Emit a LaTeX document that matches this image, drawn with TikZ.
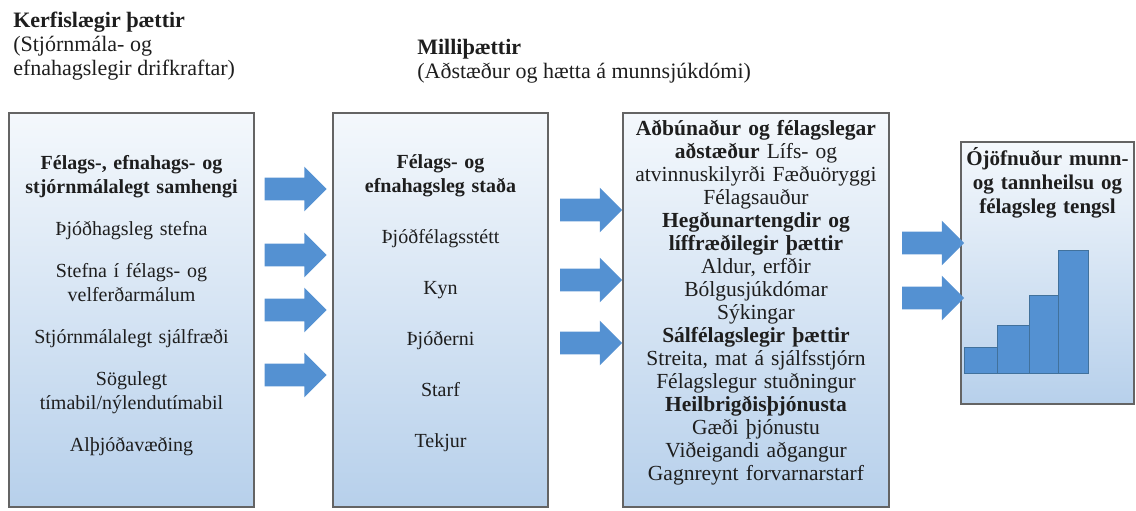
\documentclass[tikz,border=0pt]{standalone}
\usepackage{fontspec}
\setmainfont{Liberation Serif}
\usetikzlibrary{shapes.arrows,calc,positioning}

\definecolor{boxtop}{RGB}{244,248,252}
\definecolor{boxbot}{RGB}{183,208,235}
\definecolor{boxline}{RGB}{100,100,100}
\definecolor{arrowblue}{RGB}{84,145,210}
\definecolor{barline}{RGB}{65,113,156}
\definecolor{txtgray}{RGB}{30,30,30}

\begin{document}
\begin{tikzpicture}[x=1pt, y=-1pt, semithick, text=txtgray]
  \tikzstyle{block} = [rectangle, draw=boxline, line width=1.4pt,
    top color=boxtop, bottom color=boxbot, inner sep=0pt]
  \tikzstyle{bigarrow} = [single arrow, fill=arrowblue, draw=none,
    inner xsep=0pt, inner ysep=11pt, minimum height=62pt,
    single arrow head extend=11pt]
  \tikzstyle{head} = [anchor=north west, align=left, inner sep=0pt,
    font=\fontsize{22}{24}\selectfont]
  \tikzstyle{items} = [anchor=north, align=center, inner sep=0pt,
    font=\fontsize{20}{24}\selectfont]
  \tikzstyle{bar} = [fill=arrowblue, draw=barline, line width=0.8pt]

  \useasboundingbox (0,0) rectangle (1136,511);

  % Headers
  \node [head] (sys) at (13,12) {\textbf{Kerfislægir þættir}\\(Stjórnmála- og\\efnahagslegir drifkraftar)};
  \node [head] (mid) at (417,39) {\textbf{Milliþættir}\\(Aðstæður og hætta á munnsjúkdómi)};

  % Place boxes
  \node [block, minimum width=245pt, minimum height=394pt] (ctx) at (131.5,310) {};
  \node [block, minimum width=215pt, minimum height=394pt] (pos) at (440.5,310) {};
  \node [block, minimum width=266pt, minimum height=394pt] (cond) at (756,310) {};
  \node [block, minimum width=173pt, minimum height=262pt] (ineq) at (1047.5,273) {};

  % Box texts
  \node [items, text width=235pt] (ctxtxt) at ($(ctx.north)+(0,43)$)
    {\textbf{Félags-, efnahags- og}\\\textbf{stjórnmálalegt samhengi}\\[18pt]
     Þjóðhagsleg stefna\\[18pt]
     Stefna í félags- og\\velferðarmálum\\[18pt]
     Stjórnmálalegt sjálfræði\\[18pt]
     Sögulegt\\tímabil/nýlendutímabil\\[18pt]
     Alþjóðavæðing};
  \node [items, text width=205pt] (postxt) at ($(pos.north)+(0,42)$)
    {\textbf{Félags- og}\\\textbf{efnahagsleg staða}\\[27pt]
     Þjóðfélagsstétt\\[27pt]
     Kyn\\[27pt]
     Þjóðerni\\[27pt]
     Starf\\[27pt]
     Tekjur};
  \node [items, text width=262pt, font=\fontsize{21.5}{23}\selectfont] (condtxt) at ($(cond.north)+(0,8)$)
    {\textbf{Aðbúnaður og félagslegar}\\\textbf{aðstæður} Lífs- og\\
     atvinnuskilyrði Fæðuöryggi\\Félagsauður\\
     \textbf{Hegðunartengdir og}\\\textbf{líffræðilegir þættir}\\
     Aldur, erfðir\\Bólgusjúkdómar\\Sýkingar\\
     \textbf{Sálfélagslegir þættir}\\
     Streita, mat á sjálfsstjórn\\Félagslegur stuðningur\\
     \textbf{Heilbrigðisþjónusta}\\
     Gæði þjónustu\\Viðeigandi aðgangur\\Gagnreynt forvarnarstarf};
  \node [items, text width=170pt, font=\fontsize{21}{24}\selectfont\bfseries] (ineqtxt) at ($(ineq.north)+(0,6)$)
    {Ójöfnuður munn-\\og tannheilsu og\\félagsleg tengsl};

  % Bar chart
  \draw [bar] (964,373) rectangle (997,347);
  \draw [bar] (997,373) rectangle (1029,325);
  \draw [bar] (1029,373) rectangle (1058,295);
  \draw [bar] (1058,373) rectangle (1088,250);

  % Block arrows
  \coordinate (gap1) at ($(ctx.east)!0.5!(pos.west)+(-3.5,0)$);
  \coordinate (gap2) at ($(pos.east)!0.5!(cond.west)$);
  \coordinate (gap3) at ($(cond.east)!0.5!(ineq.west)+(2.5,0)$);
  \node [bigarrow] (a11) at (gap1 |- 0,189) {};
  \node [bigarrow] (a12) at (gap1 |- 0,255) {};
  \node [bigarrow] (a13) at (gap1 |- 0,310) {};
  \node [bigarrow] (a14) at (gap1 |- 0,375) {};
  \node [bigarrow] (a21) at (gap2 |- 0,210) {};
  \node [bigarrow] (a22) at (gap2 |- 0,280) {};
  \node [bigarrow] (a23) at (gap2 |- 0,343) {};
  \node [bigarrow] (a31) at (gap3 |- 0,243) {};
  \node [bigarrow] (a32) at (gap3 |- 0,298) {};

\end{tikzpicture}
\end{document}
